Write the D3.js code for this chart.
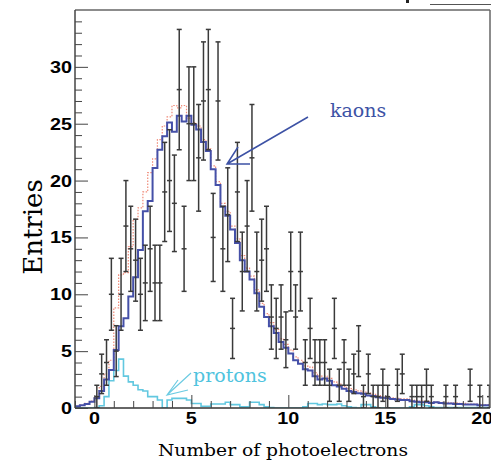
<!DOCTYPE html>
<html>
<head>
<meta charset="utf-8">
<script src="https://cdnjs.cloudflare.com/ajax/libs/d3/7.8.5/d3.min.js"></script>
<style>
  body { margin: 0; background: #fff; }
  svg { display: block; }
  .tick-label { font-family: "Liberation Sans", Arial, sans-serif; font-weight: bold; font-size: 17px; fill: #000; }
  .serif { font-family: "DejaVu Serif", "Liberation Serif", serif; }
</style>
</head>
<body>
<script>
//Histogram binning (bin width 0.25 photoelectrons, starting at -1)
const binStart = -1;
const binWidth = 0.25;

//Monte Carlo kaons (blue solid)
const mcKaons = [
  0.15, 0.25, 0.35, 0.55, 0.85, 1.5, 2.5, 3.35, 5.1, 7.2,
  7.9, 9.8, 11.5, 13.9, 17.3, 18.2, 21.1, 22.7, 23.9, 25.1,
  24.3, 25.7, 25.2, 25.7, 24.9, 24.5, 23.4, 22.6, 21.0, 19.6,
  17.7, 16.9, 15.7, 14.5, 13.0, 12.0, 11.3, 10.1, 8.9, 8.0,
  7.2, 6.6, 5.8, 5.3, 4.8, 4.2, 3.9, 3.4, 3.3, 2.8,
  2.5, 2.6, 2.4, 2.0, 1.9, 1.7, 1.5, 1.4, 1.3, 1.25,
  1.1, 1.05, 0.95, 0.9, 0.85, 0.8, 0.75, 0.7, 0.7, 0.6,
  0.55, 0.5, 0.5, 0.45, 0.5, 0.45, 0.4, 0.4, 0.35, 0.35,
  0.3, 0.3, 0.3, 0.25, 0.25, 0.25
];

//Monte Carlo sum (red dotted)
const mcSum = [
  0.15, 0.25, 0.4, 0.6, 1.0, 1.9, 3.0, 4.2, 8.8, 11.7,
  11.9, 14.2, 16.6, 17.6, 19.0, 20.7, 21.9, 23.6, 24.8, 25.6,
  26.6, 26.4, 26.6, 25.5, 25.1, 24.8, 23.6, 22.8, 21.3, 19.9,
  18.0, 17.3, 16.0, 14.9, 13.4, 12.3, 11.6, 10.4, 9.2, 8.3,
  7.5, 6.9, 6.1, 5.6, 5.1, 4.5, 4.2, 3.7, 3.6, 3.1,
  2.8, 2.8, 2.6, 2.3, 2.1, 1.9, 1.7, 1.6, 1.5, 1.4,
  1.3, 1.2, 1.1, 1.0, 1.0, 0.9, 0.85, 0.8, 0.8, 0.7,
  0.65, 0.6, 0.6, 0.55, 0.55, 0.5, 0.5, 0.45, 0.45, 0.4,
  0.4, 0.35, 0.35, 0.35, 0.3, 0.3
];

//Monte Carlo protons (cyan)
const mcProtons = [
  0, 0, 0, 0, 0.05, 0.2, 1.0, 2.4, 3.3, 4.3,
  2.8, 2.3, 2.0, 1.6, 1.5, 1.0, 1.0, 0.7, 0.0, 0.7,
  0.85, 0.85, 0.85, 0.7, 0.4, 0.4, 0.15, 0.15, 0.35, 0.35,
  0.35, 0.5, 0.3, 0.3, 0.1, 0.1, 0.5, 0.5, 0.3, 0.1,
  0.05, 0, 0, 0, 0, 0, 0, 0.1, 0.4, 0.4,
  0.3, 0.35, 0.3, 0.3, 0.35, 0.2, 0.1, 0.05, 0, 0.3,
  0.3, 0.1, 0, 0, 0, 0, 0, 0, 0, 0.1,
  0.3, 0.3, 0.2, 0.1, 0.05, 0.05, 0.05, 0.05, 0.05, 0.05,
  0.05, 0.05, 0.05, 0.05, 0.05, 0.05
];

//Measured entries (points with sqrt(N) error bars), 0 = empty bin
const dataCounts = [
  0, 0, 0, 0, 1, 3, 4, 10, 5, 10,
  16, 14, 13, 10, 11, 14, 11, 11, 19, 20,
  18, 28, 14, 25, 25, 22, 27, 28, 15, 27,
  14, 17, 7, 19, 12, 16, 22, 12, 13, 14,
  8, 7, 8, 6, 12, 8, 12, 4, 7, 4,
  4, 4, 2, 7, 2, 4, 2, 3, 5, 1,
  3, 1, 1, 2, 1, 0, 2, 3, 0, 1,
  1, 1, 2, 1, 0, 0, 1, 0, 1, 0,
  0, 2, 0, 1, 0, 1
];

//Axis ticks
const xMajorTicks = [0, 5, 10, 15, 20];
const yMajorTicks = [0, 5, 10, 15, 20, 25, 30];

const w = 491;
const h = 464;
const frameLeft = 75, frameRight = 490, frameTop = 10, frameBottom = 408;

//Scale Setup
const xScale = d3.scaleLinear().domain([-1, 20.4]).range([frameLeft, frameRight]);
const yScale = d3.scaleLinear().domain([0, 35]).range([frameBottom, frameTop]);

const chart = d3.select("body").append("svg")
  .attr("width", w)
  .attr("height", h);

chart.append("defs").append("clipPath")
  .attr("id", "frame")
  .append("rect")
  .attr("x", frameLeft).attr("y", frameTop)
  .attr("width", frameRight - frameLeft).attr("height", frameBottom - frameTop);

//Step path for a histogram
function stepPath(values){
  let p = "";
  values.forEach((v, i) => {
    const x0 = xScale(binStart + i * binWidth);
    const x1 = xScale(binStart + (i + 1) * binWidth);
    const y = yScale(v);
    p += (i === 0 ? "M" : "L") + x0 + "," + y + "L" + x1 + "," + y;
  });
  return p;
}

const plot = chart.append("g").attr("clip-path", "url(#frame)");

plot.append("path")
  .attr("d", stepPath(mcProtons))
  .attr("fill", "none")
  .attr("stroke", "#62c8e0")
  .attr("stroke-width", 1.6);

plot.append("path")
  .attr("d", stepPath(mcSum))
  .attr("fill", "none")
  .attr("stroke", "#f08a78")
  .attr("stroke-width", 1.2)
  .attr("stroke-dasharray", "1.5,1.5");

plot.append("path")
  .attr("d", stepPath(mcKaons))
  .attr("fill", "none")
  .attr("stroke", "#4550a8")
  .attr("stroke-width", 2);

//Data points with error bars
const points = dataCounts
  .map((n, i) => ({ x: binStart + (i + 0.5) * binWidth, n: n }))
  .filter(d => d.n > 0);

const bars = plot.selectAll(".point")
  .data(points)
  .enter()
  .append("g")
  .classed("point", true)
  .attr("stroke", "#3a3a3a")
  .attr("stroke-width", 1.5);

bars.append("line")
  .attr("x1", d => xScale(d.x)).attr("x2", d => xScale(d.x))
  .attr("y1", d => yScale(d.n - Math.sqrt(d.n)))
  .attr("y2", d => yScale(d.n + Math.sqrt(d.n)));
[-1, 0, 1].forEach(s => {
  bars.append("line")
    .attr("x1", d => xScale(d.x) - 2.5).attr("x2", d => xScale(d.x) + 2.5)
    .attr("y1", d => yScale(d.n + s * Math.sqrt(d.n)))
    .attr("y2", d => yScale(d.n + s * Math.sqrt(d.n)));
});

//Frame
chart.append("line").attr("x1", frameLeft).attr("x2", frameRight).attr("y1", frameTop).attr("y2", frameTop)
  .attr("stroke", "#666").attr("stroke-width", 1.5);
chart.append("line").attr("x1", frameRight).attr("x2", frameRight).attr("y1", frameTop).attr("y2", frameBottom)
  .attr("stroke", "#666").attr("stroke-width", 1.5);
chart.append("line").attr("x1", frameLeft).attr("x2", frameLeft).attr("y1", frameTop).attr("y2", frameBottom)
  .attr("stroke", "#444").attr("stroke-width", 1.5);
chart.append("line").attr("x1", frameLeft).attr("x2", frameRight).attr("y1", frameBottom).attr("y2", frameBottom)
  .attr("stroke", "#333").attr("stroke-width", 1.5);

//Axis Setup (ROOT style, ticks inside the frame)
const xAxis = d3.axisTop(xScale)
  .tickValues(d3.range(-1, 21))
  .tickSize(7)
  .tickFormat("");
chart.append("g")
  .attr("transform", "translate(0," + frameBottom + ")")
  .call(xAxis)
  .call(g => g.select(".domain").remove())
  .call(g => g.selectAll(".tick line")
    .attr("stroke", "#444")
    .attr("y2", d => xMajorTicks.includes(d) ? -13 : -7));

const yAxis = d3.axisRight(yScale)
  .tickValues(d3.range(0, 35))
  .tickSize(7)
  .tickFormat("");
chart.append("g")
  .attr("transform", "translate(" + frameLeft + ",0)")
  .call(yAxis)
  .call(g => g.select(".domain").remove())
  .call(g => g.selectAll(".tick line")
    .attr("stroke", "#444")
    .attr("x2", d => yMajorTicks.includes(d) ? 13 : 7));

//Tick labels
chart.selectAll(".xlab")
  .data(xMajorTicks)
  .enter()
  .append("text")
  .classed("tick-label", true)
  .attr("x", d => xScale(d))
  .attr("y", 424)
  .attr("text-anchor", "middle")
  .attr("textLength", d => String(d).length * 11)
  .attr("lengthAdjust", "spacingAndGlyphs")
  .text(d => d);

chart.selectAll(".ylab")
  .data(yMajorTicks)
  .enter()
  .append("text")
  .classed("tick-label", true)
  .attr("x", 72)
  .attr("y", d => yScale(d) + 6)
  .attr("text-anchor", "end")
  .attr("textLength", d => String(d).length * 11)
  .attr("lengthAdjust", "spacingAndGlyphs")
  .text(d => d);

//Labels Setup
chart.append("text")
  .classed("serif", true)
  .attr("x", 283)
  .attr("y", 456)
  .attr("text-anchor", "middle")
  .attr("font-size", 16)
  .attr("textLength", 250)
  .attr("lengthAdjust", "spacingAndGlyphs")
  .text("Number of photoelectrons");

chart.append("text")
  .classed("serif", true)
  .attr("transform", "translate(42,227) rotate(-90)")
  .attr("text-anchor", "middle")
  .attr("font-size", 26)
  .text("Entries");

//Annotations
chart.append("text")
  .classed("serif", true)
  .attr("x", 330)
  .attr("y", 117)
  .attr("font-size", 19)
  .attr("fill", "#3d52a5")
  .text("kaons");

chart.append("path")
  .attr("d", "M308,117L227,164M238,147L227,164L250,164")
  .attr("fill", "none")
  .attr("stroke", "#3d52a5")
  .attr("stroke-width", 1.5);

chart.append("text")
  .classed("serif", true)
  .attr("x", 193)
  .attr("y", 382)
  .attr("font-size", 19)
  .attr("fill", "#4fc3de")
  .text("protons");

chart.append("path")
  .attr("d", "M191,373L167,395M178,380L167,395L188,390")
  .attr("fill", "none")
  .attr("stroke", "#6ccbe2")
  .attr("stroke-width", 1.2);

//Remnant of cropped stats box at the top edge
chart.append("line").attr("x1", 430).attr("x2", 491).attr("y1", 4.5).attr("y2", 4.5)
  .attr("stroke", "#555").attr("stroke-width", 1);
chart.append("rect").attr("x", 406).attr("y", 0).attr("width", 3).attr("height", 3)
  .attr("fill", "#222");
</script>
</body>
</html>
